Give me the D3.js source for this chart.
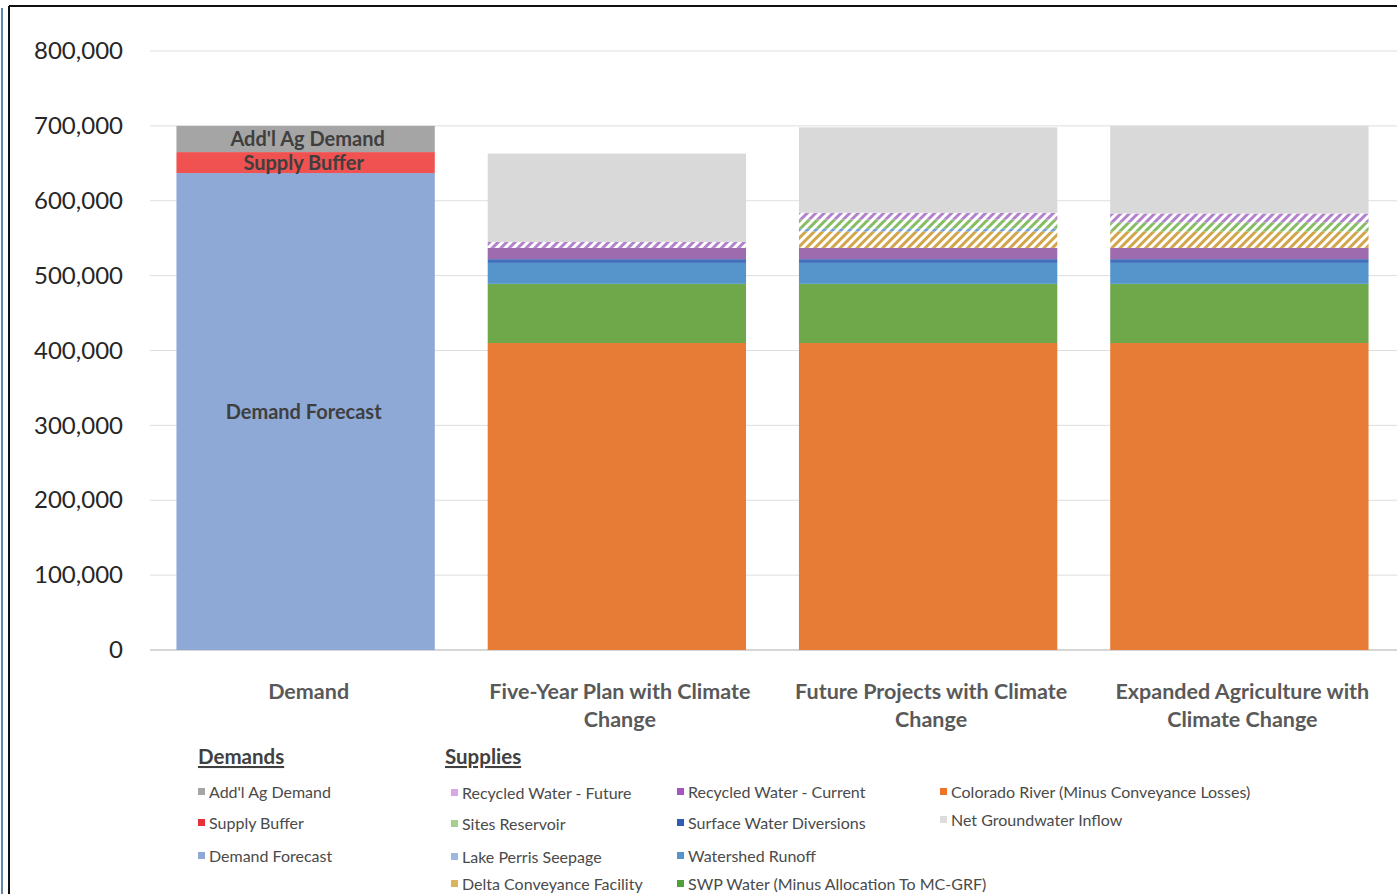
<!DOCTYPE html>
<html><head><meta charset="utf-8">
<script src="https://cdn.jsdelivr.net/npm/d3@7"></script>
<style>body{margin:0;background:#fff;}svg{display:block;font-family:Lato,"Open Sans",sans-serif;}</style>
</head><body><svg id="c" width="1397" height="894"></svg>
<script>
const categories = ["Demand", "Five-Year Plan with Climate Change", "Future Projects with Climate Change", "Expanded Agriculture with Climate Change"];
const categoryLines = [["Demand"], ["Five-Year Plan with Climate", "Change"], ["Future Projects with Climate", "Change"], ["Expanded Agriculture with", "Climate Change"]];
const yTicks = [0, 100000, 200000, 300000, 400000, 500000, 600000, 700000, 800000];

// series, bottom to top
const demandForecast   = [637000, 0, 0, 0];
const supplyBuffer     = [28000, 0, 0, 0];
const addlAgDemand     = [35000, 0, 0, 0];
const coloradoRiver    = [0, 410000, 410000, 410000];
const swpWater         = [0, 79000, 79000, 79000];
const watershedRunoff  = [0, 28000, 28000, 28000];
const surfaceDiversions= [0, 5000, 5000, 5000];
const recycledCurrent  = [0, 15000, 15000, 15000];
const deltaConveyance  = [0, 0, 22000, 22000];
const lakePerris       = [0, 0, 4000, 0];
const sitesReservoir   = [0, 0, 12000, 12000];
const recycledFuture   = [0, 8000, 9000, 12000];
const netGroundwater   = [0, 118000, 114000, 117000];

const series = [
  {key:"Demand Forecast", values:demandForecast, color:"#8ea9d5", label:"Demand Forecast", dx:-2},
  {key:"Supply Buffer", values:supplyBuffer, color:"#f05252", label:"Supply Buffer", dx:-2},
  {key:"Add'l Ag Demand", values:addlAgDemand, color:"#a5a5a5", label:"Add'l Ag Demand", dx:2},
  {key:"Colorado River (Minus Conveyance Losses)", values:coloradoRiver, color:"#e67c35"},
  {key:"SWP Water (Minus Allocation To MC-GRF)", values:swpWater, color:"#6fa84a"},
  {key:"Watershed Runoff", values:watershedRunoff, color:"#5595cb"},
  {key:"Surface Water Diversions", values:surfaceDiversions, color:"#4270bd"},
  {key:"Recycled Water - Current", values:recycledCurrent, color:"#9e6cae"},
  {key:"Delta Conveyance Facility", values:deltaConveyance, color:"#d3a54a", hatch:true},
  {key:"Lake Perris Seepage", values:lakePerris, color:"#6f9fd6", hatch:true},
  {key:"Sites Reservoir", values:sitesReservoir, color:"#86bd62", hatch:true},
  {key:"Recycled Water - Future", values:recycledFuture, color:"#b283cc", hatch:true},
  {key:"Net Groundwater Inflow", values:netGroundwater, color:"#d9d9d9"}
];

const legendCols = [
  {x:198, items:[["Add'l Ag Demand","#a5a5a5",792],["Supply Buffer","#e8303a",823],["Demand Forecast","#8ea9d5",856]]},
  {x:451, items:[["Recycled Water - Future","#d8a8e6",793],["Sites Reservoir","#a6d08e",824],["Lake Perris Seepage","#9ab8e2",857],["Delta Conveyance Facility","#d9b45c",884]]},
  {x:677, items:[["Recycled Water - Current","#a455c0",792],["Surface Water Diversions","#2f5cb5",823],["Watershed Runoff","#5595cb",856],["SWP Water (Minus Allocation To MC-GRF)","#4fa03a",884]]},
  {x:940, items:[["Colorado River (Minus Conveyance Losses)","#ef7428",792],["Net Groundwater Inflow","#dcdcdc",820]]}
];

const svg = d3.select("#c");
const defs = svg.append("defs");
series.filter(s=>s.hatch).forEach((s,i)=>{
  const p = defs.append("pattern").attr("id","h"+i).attr("patternUnits","userSpaceOnUse")
    .attr("width",6).attr("height",6).attr("patternTransform","rotate(45)");
  p.append("rect").attr("width",6).attr("height",6).attr("fill","#fff");
  p.append("rect").attr("width",3).attr("height",6).attr("fill",s.color);
  s.fill = "url(#h"+i+")";
});
series.forEach(s=>{ if(!s.fill) s.fill = s.color; });

// frame
svg.append("line").attr("x1",9).attr("x2",1397).attr("y1",6).attr("y2",6).attr("stroke","#111").attr("stroke-width",2);
svg.append("line").attr("x1",9).attr("x2",9).attr("y1",6).attr("y2",894).attr("stroke","#111").attr("stroke-width",2);
svg.append("line").attr("x1",2).attr("x2",2).attr("y1",8).attr("y2",894).attr("stroke","#2e5f8a").attr("stroke-width",1.5);

const x = d3.scaleBand().domain(categories).range([150,1395]).paddingInner(0.17).paddingOuter(0.085);
const y = d3.scaleLinear().domain([0,800000]).range([650,51]);

// gridlines
svg.append("g").selectAll("line").data(yTicks).join("line")
  .attr("x1",150).attr("x2",1397).attr("y1",d=>y(d)).attr("y2",d=>y(d))
  .attr("stroke",d=>d===0?"#c8c8c8":"#dedede").attr("stroke-width",d=>d===0?1.5:1);

// y axis labels
const yAxis = d3.axisLeft(y).tickValues(yTicks).tickFormat(d3.format(",")).tickSize(0).tickPadding(0);
const ya = svg.append("g").attr("transform","translate(123,0)").call(yAxis);
ya.select(".domain").remove();
ya.selectAll("text").attr("font-size",24).attr("fill","#262626").attr("font-family","Lato, sans-serif");

// stacked bars
const table = categories.map((c,i)=>{const o={cat:c}; series.forEach(s=>o[s.key]=s.values[i]); return o;});
const stack = d3.stack().keys(series.map(s=>s.key))(table);
stack.forEach((layer,li)=>{
  const s = series[li];
  svg.append("g").selectAll("rect").data(layer).join("rect")
    .attr("x",d=>x(d.data.cat)).attr("width",x.bandwidth())
    .attr("y",d=>y(d[1])).attr("height",d=>Math.max(0,y(d[0])-y(d[1])))
    .attr("fill",s.fill);
});

// labels inside Demand bar
stack.forEach((layer,li)=>{
  const s = series[li];
  if(!s.label) return;
  const d = layer[0];
  svg.append("text").attr("x",x(d.data.cat)+x.bandwidth()/2+s.dx).attr("y",(y(d[0])+y(d[1]))/2)
    .attr("dy","0.35em").attr("text-anchor","middle").attr("font-weight","bold")
    .attr("font-size",20).attr("fill","#3f3f3f").text(s.label);
});

// category labels
categories.forEach((c,i)=>{
  const t = svg.append("text").attr("x",x(c)+x.bandwidth()/2+3).attr("y",699)
    .attr("text-anchor","middle").attr("font-weight","bold").attr("font-size",21.5).attr("fill","#595959");
  categoryLines[i].forEach((ln,j)=>t.append("tspan").attr("x",x(c)+x.bandwidth()/2+3).attr("dy",j?28:0).text(ln));
});

// legend headers
[["Demands",198],["Supplies",445]].forEach(([t,lx])=>{
  svg.append("text").attr("x",lx).attr("y",764).attr("font-weight","bold").attr("font-size",20.5)
    .attr("fill","#404040").attr("text-decoration","underline").text(t);
});
legendCols.forEach(col=>{
  col.items.forEach(([name,color,ly])=>{
    svg.append("rect").attr("x",col.x).attr("y",ly-4).attr("width",7).attr("height",7).attr("fill",color);
    svg.append("text").attr("x",col.x+11).attr("y",ly).attr("dy","0.35em").attr("font-size",16)
      .attr("fill","#4a4a4a").text(name);
  });
});
</script></body></html>
